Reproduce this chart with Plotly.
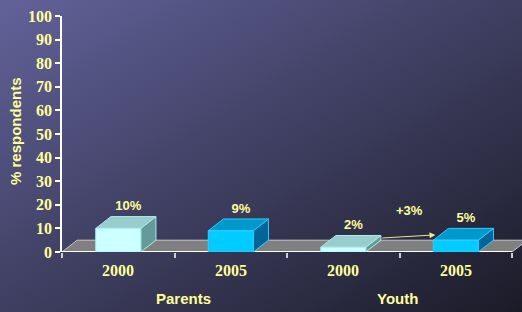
import base64
import plotly.graph_objects as go

# ---- data ----
groups = ["Parents", "Youth"]
years = ["2000", "2005", "2000", "2005"]
values = [10, 9, 2, 5]
value_labels = ["10%", "9%", "2%", "5%"]
change_label = "+3%"
y_ticks = list(range(0, 101, 10))

# ---- style ----
W, H = 522, 312
ML, MR, MT, MB = 62, 0, 16, 60
YEL = "#FFFF99"
SANS = "Liberation Sans, Arial"
SERIF = "Liberation Serif, Times New Roman"
front_cols = {"2000": "#CCFFFF", "2005": "#00CCFF"}
top_cols = {"2000": "#99CCCC", "2005": "#0099CC"}
side_cols = {"2000": "#669999", "2005": "#006699"}
edge_cols = {"2000": "#AAEEEE", "2005": "#33CCFF"}
half_w = 0.2
dx, dy = 0.135, 5.0
pw = W - ML - MR
ph = H - MT - MB
x_right = 3.5 + (pw - 450) / 112.5

fig = go.Figure()

# background gradient via svg image
svg = ('<svg xmlns="http://www.w3.org/2000/svg" width="522" height="312" preserveAspectRatio="none">'
       '<defs><linearGradient id="g" x1="0" y1="0" x2="1" y2="1">'
       '<stop offset="0" stop-color="#62629A"/><stop offset="1" stop-color="#1B1B28"/>'
       '</linearGradient></defs><rect width="522" height="312" fill="url(#g)"/></svg>')
src = "data:image/svg+xml;base64," + base64.b64encode(svg.encode()).decode()
fig.add_layout_image(dict(source=src, xref="paper", yref="paper",
                          x=-ML / pw, y=1 + MT / ph, sizex=W / pw, sizey=H / ph,
                          sizing="stretch", layer="below", xanchor="left", yanchor="top"))

n = len(values)
x0, x1 = -0.5, n - 0.5

# floor
fig.add_trace(go.Scatter(x=[x0, x1, x1 + dx, x0 + dx, x0], y=[0, 0, dy, dy, 0],
                         fill="toself", fillcolor="#808080", mode="lines",
                         line=dict(color="#C8C8C8", width=1), hoverinfo="skip", showlegend=False))
# x axis front line
fig.add_trace(go.Scatter(x=[x0, x1], y=[0, 0], mode="lines",
                         line=dict(color="white", width=2), hoverinfo="skip", showlegend=False))

# bars
for i, (yr, v) in enumerate(zip(years, values)):
    l, r = i - half_w, i + half_w
    fig.add_trace(go.Scatter(x=[r, r + dx, r + dx, r, r], y=[0, dy, v + dy, v, 0],
                             fill="toself", fillcolor=side_cols[yr], mode="lines",
                             line=dict(color=edge_cols[yr], width=1), hoverinfo="skip", showlegend=False))
    fig.add_trace(go.Scatter(x=[l, r, r + dx, l + dx, l], y=[v, v, v + dy, v + dy, v],
                             fill="toself", fillcolor=top_cols[yr], mode="lines",
                             line=dict(color=edge_cols[yr], width=1), hoverinfo="skip", showlegend=False))
    fig.add_trace(go.Scatter(x=[l, r, r, l, l], y=[0, 0, v, v, 0],
                             fill="toself", fillcolor=front_cols[yr], mode="lines",
                             line=dict(color=edge_cols[yr], width=1), hoverinfo="skip", showlegend=False))

# value labels
fig.add_trace(go.Scatter(x=[i + 0.09 for i in range(n)], y=[v + dy + 4 for v in values],
                         mode="text", text=value_labels,
                         textfont=dict(family=SANS, size=13, color=YEL, weight="bold"),
                         hoverinfo="skip", showlegend=False, cliponaxis=False))

# change arrow
fig.add_annotation(x=3 - half_w + 0.02, y=values[3] + dy * 0.45, ax=2 + half_w + dx, ay=values[2] + dy * 0.78,
                   xref="x", yref="y", axref="x", ayref="y", text="", showarrow=True,
                   arrowhead=2, arrowsize=1.2, arrowwidth=1, arrowcolor="#E8E890")
fig.add_annotation(x=2.59, y=17.4, xref="x", yref="y", text=change_label, showarrow=False,
                   xanchor="center", yanchor="middle",
                   font=dict(family=SANS, size=13, color=YEL, weight="bold"))

# category labels
for i, yr in enumerate(years):
    fig.add_annotation(x=i, y=(252 - 270) / ph, xref="x", yref="paper", text=yr,
                       xanchor="center", yanchor="middle", showarrow=False,
                       font=dict(family=SERIF, size=16, color=YEL, weight="bold"))
for gi, g in enumerate(groups):
    fig.add_annotation(x=0.5 + 2 * gi + (0.08 if gi == 0 else -0.02), y=(252 - 298) / ph,
                       xref="x", yref="paper", text=g, showarrow=False,
                       xanchor="center", yanchor="middle",
                       font=dict(family=SANS, size=15, color=YEL, weight="bold"))
# y title
fig.add_annotation(x=-(ML - 15) / pw, y=(252 - 131) / ph, xref="paper", yref="paper",
                   text="% respondents", textangle=-90, showarrow=False,
                   xanchor="center", yanchor="middle",
                   font=dict(family=SANS, size=15, color=YEL, weight="bold"))

fig.update_layout(
    width=W, height=H, margin=dict(l=ML, r=MR, t=MT, b=MB),
    paper_bgcolor="#3C3C5C", plot_bgcolor="rgba(0,0,0,0)",
    xaxis=dict(range=[x0, x_right], showgrid=False, zeroline=False, showline=False,
               tickvals=[k - 0.5 for k in range(n + 1)], ticktext=[""] * (n + 1),
               ticks="outside", ticklen=5, tickcolor="#D0D0D0", tickwidth=1.5, fixedrange=True),
    yaxis=dict(range=[0, 100], tickvals=y_ticks, showgrid=False, zeroline=False,
               showline=True, linecolor="white", linewidth=1.5,
               ticks="outside", ticklen=5, tickcolor="white", tickwidth=1.5,
               tickfont=dict(family=SERIF, size=16, color=YEL, weight="bold"),
               fixedrange=True),
    showlegend=False,
)

fig.write_html("out.html", config={"displayModeBar": False},
               post_script="document.body.style.margin='0';document.body.style.overflow='hidden';")
